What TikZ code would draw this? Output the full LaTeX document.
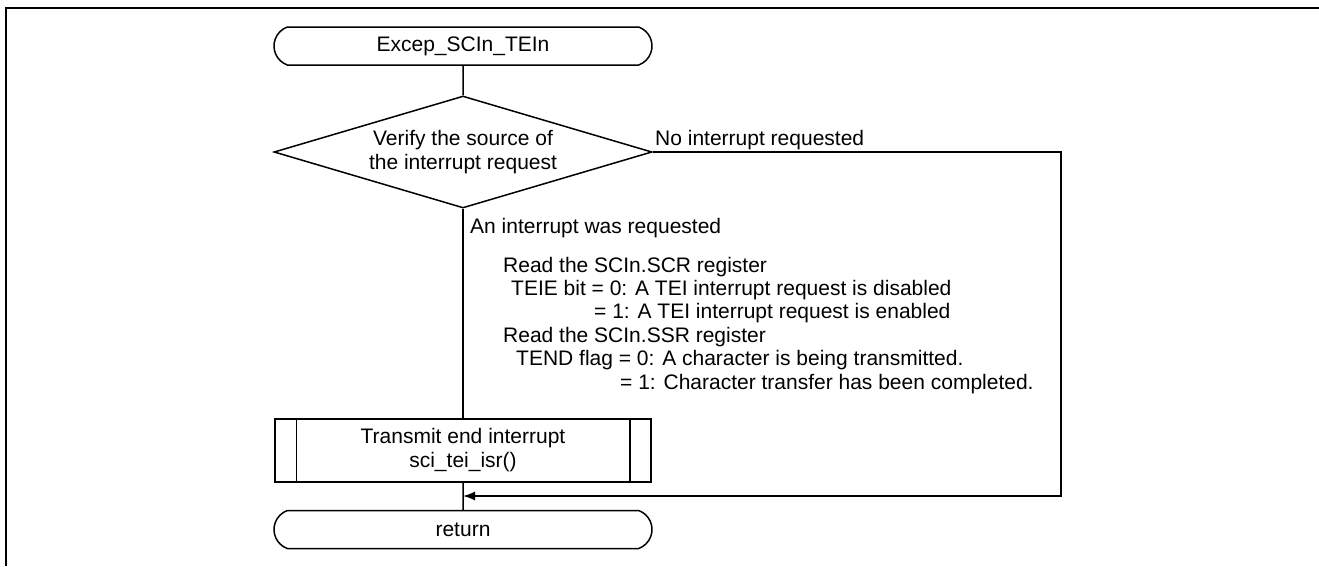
\documentclass[tikz,border=0pt]{standalone}
\usepackage{fontspec}
\setmainfont{Liberation Sans}
\usetikzlibrary{shapes.geometric,shapes.misc,arrows.meta,calc}
\begin{document}
\begin{tikzpicture}[x=1pt,y=-1pt,
  every node/.style={font=\fontsize{21}{24}\selectfont},
  flow/.style={line width=1.5pt},
  terminal/.style={draw, line width=1.5pt, rounded rectangle, rounded rectangle arc length=140,
    minimum width=378pt, minimum height=38pt, inner sep=0pt},
  decision/.style={draw, line width=1.5pt, diamond, aspect=3.375,
    minimum width=378pt, minimum height=112pt, inner sep=0pt, align=center},
  subproc/.style={draw, line width=1.5pt, rectangle,
    minimum width=376pt, minimum height=63pt, inner sep=0pt, align=center},
  txt/.style={inner sep=0pt, anchor=base west}
]
\useasboundingbox (0,0) rectangle (1319,566);

% page frame
\draw[line width=2.8pt] (6,566) -- (6,8) -- (1319,8);

% flowchart blocks
\node[terminal] (start) at (463,46) {Excep\_SCIn\_TEIn};
\node[decision] (dia) at (463,152) {Verify the source of\\the interrupt request};
\node[subproc] (sub) at (463,450.5) {Transmit end interrupt\\sci\_tei\_isr()};
\node[terminal] (ret) at (463,529.5) {return};

% side bars of the predefined-process box
\draw[flow] ($(sub.north west)+(22,0)$) -- ($(sub.south west)+(22,0)$);
\draw[flow] ($(sub.north east)+(-22,0)$) -- ($(sub.south east)+(-22,0)$);

% bypass route
\coordinate (cornerTop) at (1061,152);
\coordinate (cornerBot) at (1061,496);
\coordinate (merge) at (463,496);

\draw[flow] (start) -- (dia);
\draw[flow] (dia) -- (sub);
\draw[flow] (sub) -- (ret);
\draw[flow,-{Latex[length=12pt,width=9pt]}] (dia.east) -- (cornerTop) -- (cornerBot) -- (merge);

% branch labels
\node[txt] (nolbl) at (655,145) {No interrupt requested};
\node[txt] (yeslbl) at (470,233) {An interrupt was requested};

% register notes
\node[txt] (n1) at (503,272) {Read the SCIn.SCR register};
\node[txt] (n2) at (511,295.4) {TEIE bit = 0: A TEI interrupt request is disabled};
\node[txt] (n3) at (594,318.8) {= 1: A TEI interrupt request is enabled};
\node[txt] (n4) at (503,342.2) {Read the SCIn.SSR register};
\node[txt] (n5) at (516,365.6) {TEND flag = 0: A character is being transmitted.};
\node[txt] (n6) at (620,389) {= 1: Character transfer has been completed.};
\end{tikzpicture}
\end{document}
